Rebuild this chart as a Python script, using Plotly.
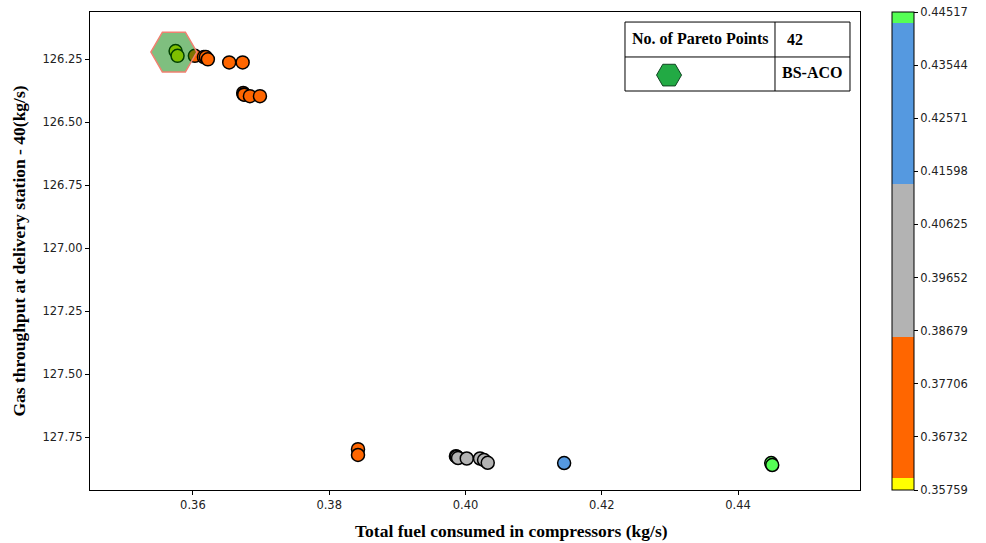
import plotly.graph_objects as go

# Pareto points: total fuel consumed (kg/s) and gas throughput - 40 (kg/s)
fuel = [0.35746, 0.35775, 0.36029, 0.36162, 0.36190, 0.36220, 0.36533, 0.36730,
        0.36739, 0.36745, 0.36753, 0.36837, 0.36984,
        0.38423, 0.38423,
        0.39860, 0.39872, 0.39891, 0.40019, 0.40214, 0.40273, 0.40327,
        0.41448, 0.44487, 0.44502]
throughput = [126.218, 126.237, 126.237, 126.242, 126.242, 126.251, 126.263, 126.263,
              126.384, 126.390, 126.391, 126.397, 126.397,
              127.798, 127.821,
              127.826, 127.828, 127.833, 127.835, 127.835, 127.841, 127.852,
              127.853, 127.853, 127.861]

best_fuel = [0.35721]
best_throughput = [126.222]

cb_min, cb_max = 0.35759, 0.44517
cb_ticks = [0.35759, 0.36732, 0.37706, 0.38679, 0.39652, 0.40625, 0.41598, 0.42571, 0.43544, 0.44517]

band_edges = [0.0, 0.025, 0.320, 0.640, 0.977, 1.0]
band_colors = ["#ffff00", "#ff6600", "#b3b3b3", "#5599e0", "#55ff55"]

colorscale = []
for i, c in enumerate(band_colors):
    colorscale.append([band_edges[i], c])
    colorscale.append([band_edges[i + 1], c])

table_texts = ["No. of Pareto Points", "42", "BS-ACO"]
x_title = "Total fuel consumed in compressors (kg/s)"
y_title = "Gas throughput at delivery station - 40(kg/s)"

serif = "Liberation Serif"
sans = "DejaVu Sans"

fig = go.Figure()

fig.add_trace(go.Scatter(
    x=fuel, y=throughput, mode="markers",
    marker=dict(size=13, color=fuel, cmin=cb_min, cmax=cb_max, colorscale=colorscale,
                line=dict(color="black", width=1.5),
                colorbar=dict(x=1.0416, xanchor="left", xpad=0, y=0.5, yanchor="middle", ypad=0,
                              len=1.0, lenmode="fraction", thickness=22,
                              outlinewidth=1, outlinecolor="black",
                              tickvals=cb_ticks, ticktext=[f"{v:.5f}" for v in cb_ticks],
                              ticks="outside", ticklen=4, tickcolor="black",
                              tickfont=dict(family=sans, size=11.5, color="#222"))),
    showlegend=False, hoverinfo="x+y"))

fig.add_trace(go.Scatter(
    x=best_fuel, y=best_throughput, mode="markers",
    marker=dict(symbol="hexagon2", size=46, color="rgba(0,128,0,0.5)",
                line=dict(color="#f08070", width=1.5)),
    showlegend=False))

# legend glyph in table
fig.add_trace(go.Scatter(
    x=[0.752], y=[0.868], xaxis="x2", yaxis="y2", mode="markers",
    marker=dict(symbol="hexagon2", size=25, color="#22aa44",
                line=dict(color="#114422", width=1)),
    showlegend=False, hoverinfo="skip"))

fig.update_layout(
    width=986, height=543,
    margin=dict(l=90, r=126, t=12, b=53, autoexpand=False),
    plot_bgcolor="white", paper_bgcolor="white",
    xaxis=dict(range=[0.3449, 0.4579], tickvals=[0.36, 0.38, 0.40, 0.42, 0.44],
               ticktext=["0.36", "0.38", "0.40", "0.42", "0.44"],
               showgrid=False, zeroline=False, showline=True, linecolor="black", linewidth=1,
               mirror=True, ticks="outside", ticklen=4, tickcolor="black",
               tickfont=dict(family=sans, size=11.5, color="#222")),
    yaxis=dict(range=[127.96, 126.063], tickvals=[126.25, 126.5, 126.75, 127.0, 127.25, 127.5, 127.75],
               ticktext=["126.25", "126.50", "126.75", "127.00", "127.25", "127.50", "127.75"],
               showgrid=False, zeroline=False, showline=True, linecolor="black", linewidth=1,
               mirror=True, ticks="outside", ticklen=4, tickcolor="black",
               tickfont=dict(family=sans, size=11.5, color="#222"),
               title=dict(text=f"<b>{y_title}</b>",
                          font=dict(family=serif, size=17.5, color="black"), standoff=12)),
    xaxis2=dict(domain=[0, 1], range=[0, 1], overlaying="x", visible=False, fixedrange=True),
    yaxis2=dict(domain=[0, 1], range=[0, 1], overlaying="y", visible=False, fixedrange=True),
)

fig.add_annotation(xref="paper", yref="paper", x=0.548, y=-0.0858, xanchor="center", yanchor="middle",
                   text=f"<b>{x_title}</b>", showarrow=False,
                   font=dict(family=serif, size=17.5, color="black"))

# table
fig.add_shape(type="rect", xref="paper", yref="paper", x0=0.6948, x1=0.987, y0=0.8347, y1=0.979,
              line=dict(color="black", width=1), fillcolor="white", layer="below")
fig.add_shape(type="line", xref="paper", yref="paper", x0=0.6948, x1=0.987, y0=0.9059, y1=0.9059,
              line=dict(color="black", width=1))
fig.add_shape(type="line", xref="paper", yref="paper", x0=0.8896, x1=0.8896, y0=0.8347, y1=0.979,
              line=dict(color="black", width=1))

fig.add_annotation(xref="paper", yref="paper", x=0.7935, y=0.9445, xanchor="center", yanchor="middle",
                   text=f"<b>{table_texts[0]}</b>",
                   showarrow=False, font=dict(family=serif, size=16, color="black"))
fig.add_annotation(xref="paper", yref="paper", x=0.902, y=0.9415, xanchor="left", yanchor="middle",
                   text=f"<b>{table_texts[1]}</b>",
                   showarrow=False, font=dict(family=serif, size=16, color="black"))
fig.add_annotation(xref="paper", yref="paper", x=0.9375, y=0.8735, xanchor="center", yanchor="middle",
                   text=f"<b>{table_texts[2]}</b>",
                   showarrow=False, font=dict(family=serif, size=16, color="black"))

fig.write_html("out.html")
